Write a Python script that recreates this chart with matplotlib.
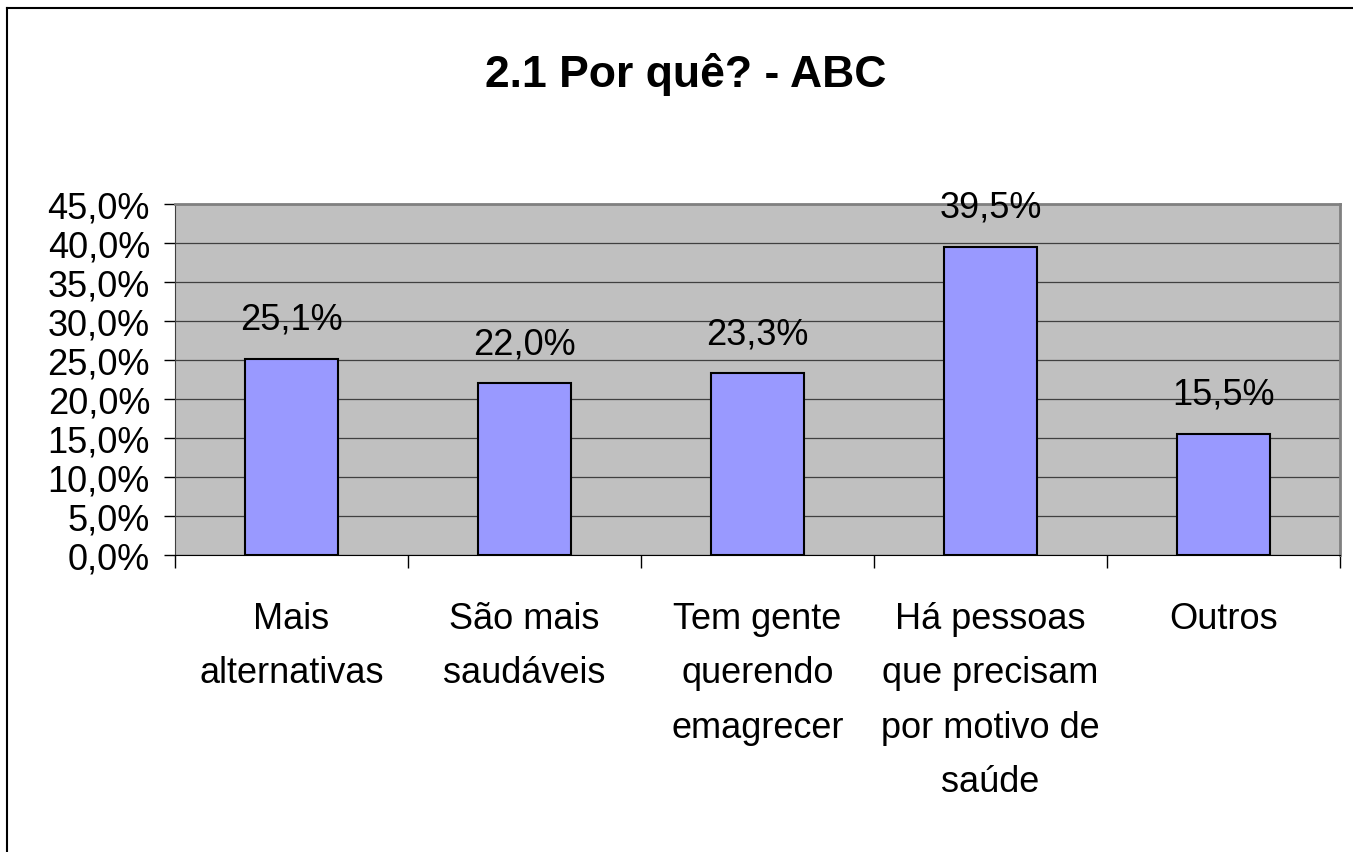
import matplotlib
matplotlib.use('Agg')
import matplotlib.pyplot as plt
from matplotlib.lines import Line2D
from matplotlib.ticker import FuncFormatter, FixedLocator

# Dados do gráfico
categorias = ['Mais\nalternativas', 'São mais\nsaudáveis', 'Tem gente\nquerendo\nemagrecer',
              'Há pessoas\nque precisam\npor motivo de\nsaúde', 'Outros']
valores = [25.1, 22.0, 23.3, 39.5, 15.5]
titulo = '2.1 Por quê? - ABC'

plt.rcParams['font.family'] = ['Liberation Sans', 'DejaVu Sans']

fig = plt.figure(figsize=(13.53, 8.53), dpi=100)
ax = fig.add_axes([175 / 1353, 1 - 556 / 853, 1165 / 1353, 351 / 853])

x = list(range(len(valores)))
bars = ax.bar(x, valores, width=0.4, color='#9999FF', edgecolor='black', linewidth=1.5, zorder=3)

for b, v in zip(bars, valores):
    ax.annotate(f'{v:.1f}%'.replace('.', ','), (b.get_x() + b.get_width() / 2, v),
                xytext=(0, 16), textcoords='offset points', ha='center', va='bottom',
                fontsize=26, zorder=4)

ax.set_facecolor('#C0C0C0')
ax.set_xlim(-0.5, len(valores) - 0.5)
ax.set_ylim(0, 45)
ax.set_yticks([i * 5 for i in range(10)])
ax.yaxis.set_major_formatter(FuncFormatter(lambda v, p: f'{v:.1f}%'.replace('.', ',')))
ax.grid(axis='y', color='#404040', linewidth=0.9, zorder=1)
ax.set_axisbelow(True)

# rótulos no centro, marcas nos limites das categorias
ax.set_xticks(x)
ax.set_xticklabels(categorias, fontsize=26, linespacing=1.72)
ax.tick_params(axis='x', which='major', length=0, pad=33)
ax.xaxis.set_minor_locator(FixedLocator([i - 0.5 for i in range(len(valores) + 1)]))
ax.tick_params(axis='x', which='minor', length=9, width=1, color='black')
ax.tick_params(axis='y', labelsize=26, length=8, width=1, pad=10)

for s in ['top', 'right']:
    ax.spines[s].set_color('#808080')
    ax.spines[s].set_linewidth(2)
ax.spines['left'].set_color('#404040')
ax.spines['bottom'].set_color('black')

fig.text(686 / 1353, 1 - 75 / 853, titulo, ha='center', va='center', fontsize=32, fontweight='bold')

# moldura do gráfico
fig.add_artist(Line2D([7 / 1353, 7 / 1353], [0, 1 - 9 / 853], color='black', linewidth=1.5))
fig.add_artist(Line2D([7 / 1353, 1], [1 - 9 / 853, 1 - 9 / 853], color='black', linewidth=1.5))

plt.savefig('out.png', dpi=100)
plt.close()
